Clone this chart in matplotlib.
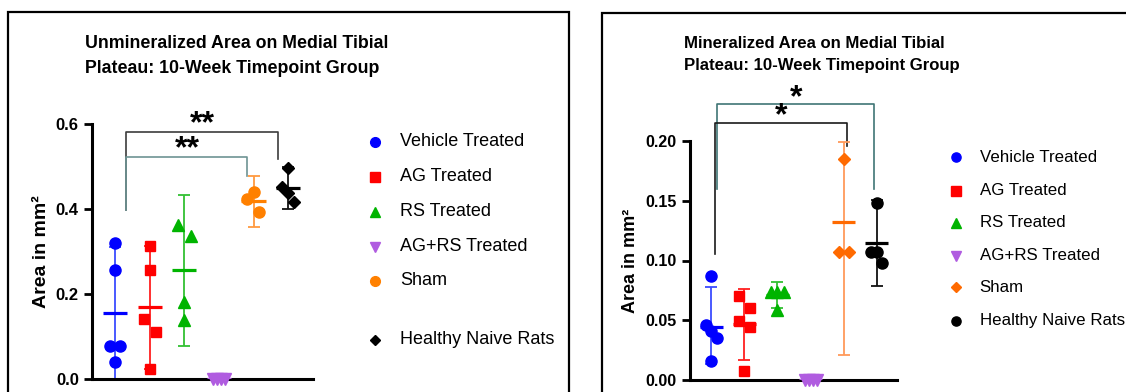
import numpy as np
import matplotlib.pyplot as plt
from matplotlib.lines import Line2D
from matplotlib.patches import Rectangle

plt.rcParams['font.family'] = ['Liberation Sans', 'DejaVu Sans']

# ---- data ----
groups = ['Vehicle Treated', 'AG Treated', 'RS Treated', 'AG+RS Treated', 'Sham', 'Healthy Naive Rats']

# unmineralized area (left panel)
unmin_vehicle = [0.32, 0.256, 0.078, 0.078, 0.039]
unmin_ag = [0.314, 0.256, 0.141, 0.109, 0.022]
unmin_rs = [0.362, 0.337, 0.182, 0.138]
unmin_agrs = [0.0, 0.0, 0.0, 0.0]
unmin_sham = [0.425, 0.441, 0.392]
unmin_naive = [0.498, 0.451, 0.437, 0.417]
unmin_mean = [0.155, 0.168, 0.256, 0.0, 0.419, 0.449]
unmin_err_lo = [0.0, 0.022, 0.078, 0.0, 0.357, 0.40]   # bottom of error bar
unmin_err_hi = [0.311, 0.314, 0.433, 0.0, 0.478, 0.50]  # top of error bar

# mineralized area (right panel)
min_vehicle = [0.087, 0.046, 0.041, 0.0354, 0.016]
min_ag = [0.070, 0.0605, 0.0496, 0.044, 0.0078]
min_rs = [0.0734, 0.0734, 0.0734, 0.0586]
min_agrs = [0.0, 0.0, 0.0, 0.0]
min_sham = [0.185, 0.107, 0.107]
min_naive = [0.148, 0.107, 0.107, 0.098]
min_mean = [0.0446, 0.0469, 0.071, 0.0, 0.1325, 0.115]
min_err_lo = [0.013, 0.0167, 0.06, 0.0, 0.021, 0.079]
min_err_hi = [0.0776, 0.0759, 0.0817, 0.0, 0.1995, 0.151]

# ---- layout (horizontal scatter of the points, in group units) ----
unmin_jit = [[0, 0, -0.15, 0.15, 0], [0, 0, -0.17, 0.17, 0], [-0.18, 0.18, 0, 0],
             [-0.18, -0.06, 0.06, 0.18], [-0.19, 0, 0.16], [0, -0.17, 0, 0.17]]
min_jit = [[0, -0.17, 0, 0.18, 0], [-0.15, 0.18, -0.15, 0.18, 0], [-0.2, 0, 0.2, 0],
           [-0.18, -0.06, 0.06, 0.18], [0, -0.15, 0.15], [0, -0.17, 0, 0.15]]

colors = ['#0000ff', '#ff0000', '#00b400', '#b05ce0', '#ff8000', '#000000']
err_colors = ['#3b4cff', '#ff2020', '#33c033', '#b05ce0', '#ff9a40', '#111111']
left_markers = ['o', 's', '^', 'v', 'o', 'D']
right_markers = ['o', 's', '^', 'v', 'D', 'o']
right_colors = ['#0000ff', '#ff0000', '#00b400', '#b05ce0', '#ff6a00', '#000000']
right_err = ['#3b4cff', '#ff2020', '#33c033', '#b05ce0', '#ff9a5a', '#111111']
msizes = {'o': 8, 's': 7.3, 'D': 6.3, '^': 8.3, 'v': 8.3}

W, H = 1126, 392
fig = plt.figure(figsize=(W / 100, H / 100), dpi=100)


def px_axes(x0, x1, y0, y1):
    # y measured from top of image
    return fig.add_axes([x0 / W, 1 - y1 / H, (x1 - x0) / W, (y1 - y0) / H])


def draw_panel(ax, series, jit, means, lo, hi, markers, cols, ecols):
    for i, vals in enumerate(series):
        yerr = [[means[i] - lo[i]], [hi[i] - means[i]]]
        ax.errorbar(i, means[i], yerr=yerr, fmt='none', ecolor=ecols[i],
                    elinewidth=1.3, capsize=4.5, capthick=1.3, clip_on=False, zorder=2)
        ax.hlines(means[i], i - 0.35, i + 0.35, color=cols[i], lw=2.3, zorder=3)
        m = markers[i]
        ax.plot(i + np.array(jit[i]), vals, ls='none', marker=m, ms=msizes[m],
                color=cols[i], mec=cols[i], clip_on=False, zorder=4)
    for s in ['top', 'right']:
        ax.spines[s].set_visible(False)
    for s in ['left', 'bottom']:
        ax.spines[s].set_linewidth(2.2)
    ax.set_xticks([])
    ax.tick_params(axis='y', width=2, length=6)


def bracket(ax, x0, x1, y, y0, y1, color):
    ax.plot([x0, x0, x1, x1], [y0, y, y, y1], color=color, lw=1.2,
            clip_on=False, zorder=1)


def stars(ax, x, y, s, fs=23):
    # place so that the asterisk itself is centred on (x, y)
    ax.annotate(s, xy=(x, y), xytext=(0, -0.47 * fs), textcoords='offset points',
                fontsize=fs, fontweight='bold', ha='center', va='baseline',
                annotation_clip=False)


def legend(xm, xt, ys, markers, cols, size, ms):
    for lab, m, c, y in zip(groups, markers, cols, ys):
        fig.add_artist(Line2D([xm / W], [1 - y / H], marker=m, color=c, ls='none',
                              ms=ms if m != 'D' else ms - 1.5, transform=fig.transFigure))
        fig.text(xt / W, 1 - y / H, lab, fontsize=size, va='center', ha='left')


# ---- left panel ----
ax1 = px_axes(92, 313, 124.3, 378.7)
unmin = [unmin_vehicle, unmin_ag, unmin_rs, unmin_agrs, unmin_sham, unmin_naive]
draw_panel(ax1, unmin, unmin_jit, unmin_mean, unmin_err_lo, unmin_err_hi,
           left_markers, colors, err_colors)
ax1.set_xlim(-0.67, 5.72)
ax1.set_ylim(0, 0.6)
ax1.set_yticks([0.0, 0.2, 0.4, 0.6])
ax1.set_yticklabels(['0.0', '0.2', '0.4', '0.6'], fontweight='bold', fontsize=12)
ax1.set_ylabel('Area in mm²', fontsize=14, fontweight='bold')
ax1.yaxis.set_label_coords(-0.19, 0.5)
bracket(ax1, 0.32, 4.71, 0.582, 0.398, 0.518, '#3c3c3c')
bracket(ax1, 0.32, 3.82, 0.524, 0.398, 0.478, '#6e9494')
stars(ax1, 2.51, 0.617, '**')
stars(ax1, 2.08, 0.5575, '**')
fig.text(85 / W, 1 - 56 / H, 'Unmineralized Area on Medial Tibial\nPlateau: 10-Week Timepoint Group',
         fontsize=12.8, fontweight='bold', ha='left', va='center', linespacing=1.55)
legend(374.5, 400, [141.7, 176.7, 211.7, 246.7, 280.7, 340], left_markers, colors, 13, 7)

# ---- right panel ----
ax2 = px_axes(689.7, 897, 141, 380)
mins = [min_vehicle, min_ag, min_rs, min_agrs, min_sham, min_naive]
draw_panel(ax2, mins, min_jit, min_mean, min_err_lo, min_err_hi,
           right_markers, right_colors, right_err)
ax2.set_xlim(-0.65, 5.61)
ax2.set_ylim(0, 0.2)
ax2.set_yticks([0.0, 0.05, 0.10, 0.15, 0.20])
ax2.set_yticklabels(['0.00', '0.05', '0.10', '0.15', '0.20'], fontweight='bold', fontsize=11.5)
ax2.set_ylabel('Area in mm²', fontsize=13, fontweight='bold')
ax2.yaxis.set_label_coords(-0.245, 0.5)
bracket(ax2, 0.17, 4.93, 0.2307, 0.160, 0.160, '#3f7575')
bracket(ax2, 0.115, 4.09, 0.2148, 0.1054, 0.196, '#1a1a1a')
stars(ax2, 2.56, 0.2418, '*')
stars(ax2, 2.11, 0.2265, '*')
fig.text(683.5 / W, 1 - 54.7 / H, 'Mineralized Area on Medial Tibial\nPlateau: 10-Week Timepoint Group',
         fontsize=12.1, fontweight='bold', ha='left', va='center', linespacing=1.55)
legend(955.8, 979.6, [157, 190.7, 222.7, 256, 287.3, 320.7], right_markers, right_colors, 12.2, 6.6)

# panel frames
fig.add_artist(Rectangle((8 / W, -0.05), (569 - 8) / W, 1.05 - 12 / H, transform=fig.transFigure,
                         fill=False, ec='black', lw=1.6))
fig.add_artist(Rectangle((602 / W, -0.05), 0.6, 1.05 - 13 / H, transform=fig.transFigure,
                         fill=False, ec='black', lw=1.6))

fig.savefig('out.png', dpi=100)
